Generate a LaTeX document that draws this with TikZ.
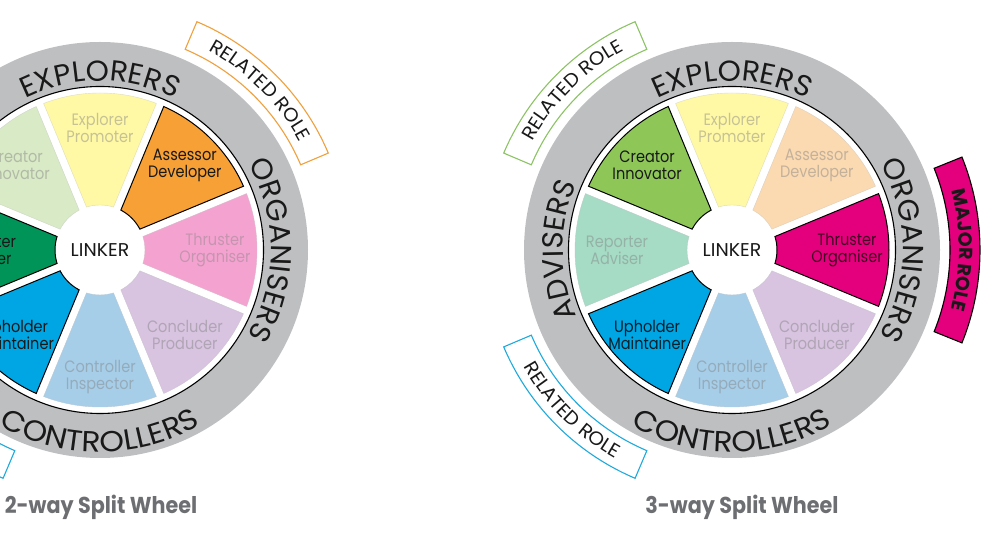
\documentclass[tikz,border=0pt]{standalone}
\usepackage{fontspec}
\setmainfont{Poppins}
\newfontfamily\fut[FakeStretch=0.88]{Poppins}
\newfontfamily\futring[FakeStretch=1.02]{Poppins}
\newfontfamily\futwide[FakeStretch=1.08]{Poppins}
\newfontfamily\futbox[FakeStretch=1.05]{Poppins}
\newfontfamily\futmaj[FakeStretch=1.0]{Poppins}
\newfontfamily\futtitle[FakeStretch=0.9]{Poppins}
\usetikzlibrary{decorations.text}

\definecolor{ringgrey}{RGB}{190,191,193}
\definecolor{expP}{RGB}{255,249,166}
\definecolor{assF}{RGB}{247,160,53}
\definecolor{assP}{RGB}{251,218,178}
\definecolor{thrF}{RGB}{228,0,125}
\definecolor{thrP}{RGB}{244,163,208}
\definecolor{conP}{RGB}{216,195,224}
\definecolor{ctlP}{RGB}{166,206,233}
\definecolor{uphF}{RGB}{0,166,227}
\definecolor{repF}{RGB}{0,148,88}
\definecolor{repP}{RGB}{166,219,198}
\definecolor{creF}{RGB}{142,199,88}
\definecolor{creP}{RGB}{217,234,198}
\definecolor{titlegrey}{RGB}{109,110,113}
\definecolor{boxorange}{RGB}{240,160,60}
\definecolor{boxgreen}{RGB}{140,195,100}
\definecolor{boxcyan}{RGB}{30,170,220}
\definecolor{darktx}{RGB}{25,25,25}

% segment: angle, fill, outline colour, outline width
\newcommand{\wseg}[4]{%
  \filldraw[fill=#2, draw=#3, line width=#4]
    ({#1-22.5+1.46}:157) arc[start angle={#1-22.5+1.46}, end angle={#1+22.5-1.46}, radius=157]
    -- ({#1+22.5-5.1}:45) arc[start angle={#1+22.5-5.1}, end angle={#1-22.5+5.1}, radius=45] -- cycle;}
% label: name, angle, radius, colour, text
\newcommand{\wlabel}[5]{\node[seglabel, text=#4] (#1) at ({#2}:#3) {#5};}
% text on arc, tops outward: angle, radius, format, text
\newcommand{\outtext}[4]{%
  \path[decorate, decoration={text along path, text align=center, text color=darktx, text={|#3|#4}}]
    ({#1+80}:#2) arc[start angle={#1+80}, end angle={#1-80}, radius=#2];}
% text on arc, tops inward
\newcommand{\intext}[4]{%
  \path[decorate, decoration={text along path, text align=center, text color=darktx, text={|#3|#4}}]
    ({#1-80}:#2) arc[start angle={#1-80}, end angle={#1+80}, radius=#2];}
% role box: angle, draw, fill
\newcommand{\rolebox}[3]{%
  \filldraw[draw=#2, fill=#3, line width=1.1pt]
    ({#1-22}:218) arc[start angle={#1-22}, end angle={#1+22}, radius=218]
    -- ({#1+22}:248) arc[start angle={#1+22}, end angle={#1-22}, radius=248] -- cycle;}
\newcommand{\ringbase}{%
  \fill[ringgrey] (0,0) circle[radius=208];
  \fill[white] (0,0) circle[radius=163.5];
  \draw[black, line width=1.1pt] (0,0) circle[radius=163.5];}
\newcommand{\RF}{\futring\fontsize{29}{31}\selectfont}
\newcommand{\RW}{\futwide\fontsize{29}{31}\selectfont}
\newcommand{\BF}{\futbox\fontsize{19}{21}\selectfont}
\newcommand{\MF}{\futmaj\bfseries\fontsize{19}{21}\selectfont}

\tikzset{
  seglabel/.style={align=center, inner sep=0pt, font=\fut\fontsize{16.5}{17}\selectfont},
  hub/.style={inner sep=0pt, text=darktx, font=\futring\fontsize{18.5}{20}\selectfont},
  wtitle/.style={inner sep=0pt, text=titlegrey, font=\futtitle\bfseries\fontsize{23}{26}\selectfont}
}

\begin{document}
\begin{tikzpicture}[x=1pt, y=1pt]
\useasboundingbox (0,0) rectangle (991,540);
\clip (0,0) rectangle (991,540);

% ---------------- 2-way wheel ----------------
\begin{scope}[shift={(100,290)}]
  \ringbase
  \wseg{135}{creP}{creP!80!black!60}{0.4pt}
  \wseg{90}{expP}{expP!80!black!60}{0.4pt}
  \wseg{0}{thrP}{thrP!80!black!60}{0.4pt}
  \wseg{-45}{conP}{conP!80!black!60}{0.4pt}
  \wseg{-90}{ctlP}{ctlP!80!black!60}{0.4pt}
  \wseg{45}{assF}{black}{1pt}
  \wseg{-135}{uphF}{black}{1pt}
  \wseg{180}{repF}{black}{1pt}
  \wlabel{Lcre}{135}{120}{creP!55!gray}{Creator\\Innovator}
  \wlabel{Lexp}{90}{122}{expP!55!gray}{Explorer\\Promoter}
  \wlabel{Lass}{45}{120}{darktx}{Assessor\\Developer}
  \wlabel{Lthr}{0}{115}{thrP!60!gray}{Thruster\\Organiser}
  \wlabel{Lcon}{-45}{120}{conP!55!gray}{Concluder\\Producer}
  \wlabel{Lctl}{-90}{127}{ctlP!55!gray}{Controller\\Inspector}
  \wlabel{Luph}{-135}{120}{darktx}{Upholder\\Maintainer}
  \wlabel{Lrep}{180}{115}{darktx}{Reporter\\Adviser}
  \node[hub] (Lhub) at (0,0) {LINKER};
  \outtext{90}{169}{\RF}{EXPLORERS}
  \outtext{0}{171}{\RF}{ORGANISERS}
  \intext{270}{202}{\RW}{CONTROLLERS}
  \rolebox{45}{boxorange}{white}
  \outtext{45}{227}{\BF}{RELATED ROLE}
  \rolebox{225}{boxcyan}{white}
  \intext{225}{239}{\BF}{RELATED ROLE}
\end{scope}
\node[wtitle] (T2) at (101,33) {2-way Split Wheel};

% ---------------- 3-way wheel ----------------
\begin{scope}[shift={(732,290)}]
  \ringbase
  \wseg{90}{expP}{expP!80!black!60}{0.4pt}
  \wseg{45}{assP}{assP!80!black!60}{0.4pt}
  \wseg{-45}{conP}{conP!80!black!60}{0.4pt}
  \wseg{-90}{ctlP}{ctlP!80!black!60}{0.4pt}
  \wseg{180}{repP}{repP!80!black!60}{0.4pt}
  \wseg{135}{creF}{black}{1pt}
  \wseg{0}{thrF}{black}{1pt}
  \wseg{-135}{uphF}{black}{1pt}
  \wlabel{Rcre}{135}{120}{darktx}{Creator\\Innovator}
  \wlabel{Rexp}{90}{122}{expP!55!gray}{Explorer\\Promoter}
  \wlabel{Rass}{45}{120}{assP!55!gray}{Assessor\\Developer}
  \wlabel{Rthr}{0}{115}{thrF!30!black}{Thruster\\Organiser}
  \wlabel{Rcon}{-45}{120}{conP!55!gray}{Concluder\\Producer}
  \wlabel{Rctl}{-90}{127}{ctlP!55!gray}{Controller\\Inspector}
  \wlabel{Ruph}{-135}{120}{uphF!20!black}{Upholder\\Maintainer}
  \wlabel{Rrep}{180}{115}{repP!55!gray}{Reporter\\Adviser}
  \node[hub] (Rhub) at (0,0) {LINKER};
  \outtext{90}{169}{\RF}{EXPLORERS}
  \outtext{0}{171}{\RF}{ORGANISERS}
  \outtext{180}{169}{\RF}{ADVISERS}
  \intext{270}{202}{\RW}{CONTROLLERS}
  \rolebox{135}{boxgreen}{white}
  \outtext{135}{227}{\BF}{RELATED ROLE}
  \rolebox{225}{boxcyan}{white}
  \intext{225}{239}{\BF}{RELATED ROLE}
  \rolebox{0}{black}{thrF}
  \outtext{0}{227}{\MF}{MAJOR ROLE}
\end{scope}
\node[wtitle] (T3) at (742,33) {3-way Split Wheel};
\end{tikzpicture}
\end{document}
